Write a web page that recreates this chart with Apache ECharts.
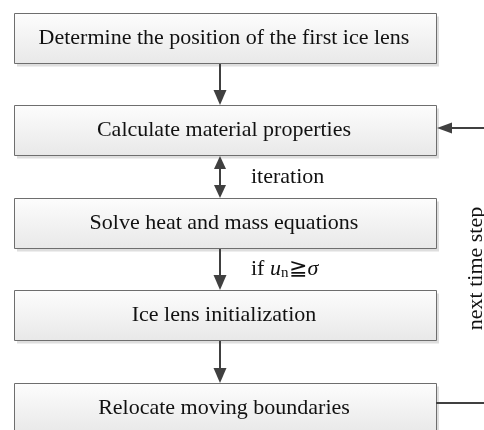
<!DOCTYPE html>
<html>
<head>
<meta charset="utf-8">
<script src="https://cdn.jsdelivr.net/npm/echarts@6/dist/echarts.min.js"></script>
<style>
  html, body { margin: 0; padding: 0; background: #fff; }
  #chart { width: 484px; height: 430px; }
</style>
</head>
<body>
<div id="chart"></div>
<script>
// flowchart steps, top to bottom
var steps = [
  'Determine the position of the first ice lens',
  'Calculate material properties',
  'Solve heat and mass equations',
  'Ice lens initialization',
  'Relocate moving boundaries'
];
// links between steps
var linkFrom = [0, 1, 2, 3];
var linkTo = [1, 2, 3, 4];
var linkBoth = [false, true, false, false];
var linkNotes = ['', 'iteration', '{t|if }{i|u}{s|n}{t|≧}{i|σ}', ''];
// feedback loop on the right side
var loopFrom = [4];
var loopTo = [1];
var loopNotes = ['next time step'];

var FONT = '"Liberation Serif", "Times New Roman", serif';
var LINE = '#404040';
var BOX_L = 14, BOX_R = 436, HALF_H = 25, ARROW_X = 220;

var chart = echarts.init(document.getElementById('chart'));

function yOf(api, i) {
  return api.coord([0, i])[1];
}

function headDown(x, tipY, len, w) {
  return { type: 'polygon', shape: { points: [[x - w / 2, tipY - len], [x + w / 2, tipY - len], [x, tipY]] }, style: { fill: LINE } };
}
function headUp(x, tipY, len, w) {
  return { type: 'polygon', shape: { points: [[x - w / 2, tipY + len], [x + w / 2, tipY + len], [x, tipY]] }, style: { fill: LINE } };
}

chart.setOption({
  animation: false,
  grid: { left: 0, right: 0, top: 0, bottom: 0 },
  xAxis: { type: 'value', min: 0, max: 484, show: false },
  yAxis: { type: 'value', min: -0.41, max: 4.238, inverse: true, show: false },
  series: [
    {
      // boxes
      type: 'custom',
      coordinateSystem: 'cartesian2d',
      encode: { x: 0, y: 1 },
      data: steps.map(function (s, i) { return [0, i, s]; }),
      renderItem: function (params, api) {
        var i = api.value(1);
        var cy = Math.round(yOf(api, i));
        var top = cy - HALF_H + 0.5;
        return {
          type: 'group',
          children: [
            { type: 'rect', shape: { x: BOX_L + 3, y: top + 3, width: BOX_R - BOX_L, height: HALF_H * 2 },
              style: { fill: '#dedede' } },
            { type: 'rect', shape: { x: BOX_L + 0.5, y: top, width: BOX_R - BOX_L, height: HALF_H * 2 },
              style: {
                fill: { type: 'linear', x: 0, y: 0, x2: 0, y2: 1,
                  colorStops: [{ offset: 0, color: '#fdfdfd' }, { offset: 1, color: '#e8e8e8' }] },
                stroke: '#6e6e6e', lineWidth: 1
              } },
            { type: 'text', x: 224, y: cy,
              style: { text: steps[i], font: '22px ' + FONT, fill: '#111', align: 'center', verticalAlign: 'middle' } }
          ]
        };
      }
    },
    {
      // vertical arrows between boxes
      type: 'custom',
      coordinateSystem: 'cartesian2d',
      encode: { x: 0, y: 1 },
      data: linkFrom.map(function (f, k) { return [0, f, linkTo[k], k]; }),
      renderItem: function (params, api) {
        var k = api.value(3);
        var y1 = Math.round(yOf(api, api.value(1))) + HALF_H + 1;
        var y2 = Math.round(yOf(api, api.value(2))) - HALF_H;
        var both = linkBoth[k];
        var hl = both ? 13 : 15, hw = both ? 12 : 13;
        var children = [
          { type: 'line', shape: { x1: ARROW_X, y1: both ? y1 + hl - 1 : y1, x2: ARROW_X, y2: y2 - hl + 1 },
            style: { stroke: LINE, lineWidth: 2 } },
          headDown(ARROW_X, y2, hl, hw)
        ];
        if (both) children.push(headUp(ARROW_X, y1, hl, hw));
        if (linkNotes[k]) {
          children.push({ type: 'text', x: 251, y: (y1 + y2) / 2,
            style: {
              text: linkNotes[k], font: '22px ' + FONT, fill: '#111', align: 'left', verticalAlign: 'middle',
              rich: {
                t: { font: '22px ' + FONT, fill: '#111' },
                i: { font: 'italic 22px ' + FONT, fill: '#111' },
                s: { font: '15px ' + FONT, fill: '#111', verticalAlign: 'bottom', padding: [8, 1, 0, 0] }
              }
            } });
        }
        return { type: 'group', children: children };
      }
    },
    {
      // feedback loop
      type: 'custom',
      coordinateSystem: 'cartesian2d',
      encode: { x: 0, y: 1 },
      data: loopFrom.map(function (f, k) { return [0, f, loopTo[k], k]; }),
      renderItem: function (params, api) {
        var k = api.value(3);
        var yA = Math.round(yOf(api, api.value(1))) - 5;
        var yB = Math.round(yOf(api, api.value(2))) - 2;
        var xr = 492;
        return {
          type: 'group',
          children: [
            { type: 'polyline', shape: { points: [[BOX_R, yA], [xr, yA], [xr, yB], [BOX_R + 15, yB]] },
              style: { stroke: LINE, lineWidth: 2, fill: null } },
            { type: 'polygon', shape: { points: [[BOX_R + 16, yB - 5.5], [BOX_R + 16, yB + 5.5], [BOX_R + 1, yB]] },
              style: { fill: LINE } },
            { type: 'text', x: 476, y: (yA + yB) / 2 + 3, rotation: Math.PI / 2,
              style: { text: loopNotes[k], font: '22px ' + FONT, fill: '#111', align: 'center', verticalAlign: 'middle' } }
          ]
        };
      }
    }
  ]
});
</script>
</body>
</html>
